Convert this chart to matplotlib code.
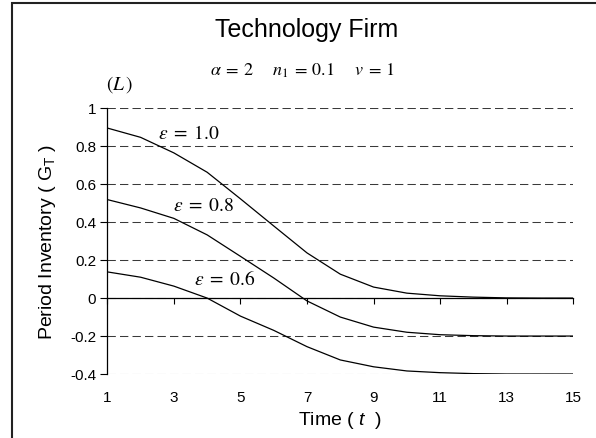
import matplotlib
matplotlib.use("Agg")
import matplotlib.pyplot as plt
from matplotlib.patches import Rectangle

plt.rcParams["font.family"] = ["Liberation Sans", "DejaVu Sans"]
plt.rcParams["mathtext.fontset"] = "custom"
plt.rcParams["mathtext.rm"] = "Liberation Sans"
plt.rcParams["mathtext.it"] = "Liberation Sans:italic"
plt.rcParams["lines.scale_dashes"] = False

# time periods and inventory paths
t = [1, 2, 3, 4, 5, 6, 7, 8, 9, 10, 11, 12, 13, 14, 15]
g_eps10 = [0.896, 0.847, 0.765, 0.663, 0.523, 0.38, 0.238, 0.126, 0.058,
           0.026, 0.012, 0.005, 0.001, 0.0, 0.0]
g_eps08 = [0.519, 0.475, 0.42, 0.333, 0.22, 0.106, -0.015, -0.1, -0.153,
           -0.18, -0.193, -0.198, -0.2, -0.2, -0.2]
g_eps06 = [0.138, 0.11, 0.063, 0.0, -0.095, -0.17, -0.256, -0.326, -0.362,
           -0.384, -0.393, -0.398, -0.4, -0.4, -0.4]

series = [
    (g_eps10, r"$\varepsilon\;=\;1.0$", (3.45, 0.865)),
    (g_eps08, r"$\varepsilon\;=\;0.8$", (3.88, 0.485)),
    (g_eps06, r"$\varepsilon\;=\;0.6$", (4.52, 0.098)),
]
xticks = [1, 3, 5, 7, 9, 11, 13, 15]
yticks = [-0.4, -0.2, 0, 0.2, 0.4, 0.6, 0.8, 1.0]
ytick_labels = ["-0.4", "-0.2", "0", "0.2", "0.4", "0.6", "0.8", "1"]

fig = plt.figure(figsize=(5.96, 4.38), dpi=100)
ax = fig.add_axes([107.3 / 596, 1 - 374 / 438, 466 / 596, 265.7 / 438])

for vals, lab, (lx, ly) in series:
    ax.plot(t, vals, color="black", lw=0.9, zorder=3)
    ax.text(lx, ly, lab, ha="center", va="center", fontsize=14,
            math_fontfamily="stix")

ax.set_xlim(1, 15)
ax.set_ylim(-0.4, 1.0)

# dashed horizontal grid
ax.set_yticks(yticks)
ax.set_yticklabels(ytick_labels)
ax.yaxis.grid(True, color="#3a3a3a", lw=0.75, dashes=(6, 3))
ax.set_axisbelow(True)

for s in ("top", "right"):
    ax.spines[s].set_visible(False)
ax.spines["left"].set_linewidth(0.9)
ax.spines["bottom"].set_position(("data", 0))
ax.spines["bottom"].set_linewidth(0.9)
ax.spines["bottom"].set_zorder(4)

ax.set_xticks(xticks)
ax.tick_params(axis="x", direction="out", length=4, width=0.8,
               labelbottom=False)
ax.tick_params(axis="y", direction="out", length=5, width=0.8, pad=3,
               labelsize=11)

# x tick labels sit at the bottom of the plot area (Excel "low" labels)
sec = ax.secondary_xaxis("bottom")
sec.set_xticks(xticks)
sec.tick_params(length=0, pad=12, labelsize=11)
sec.spines["bottom"].set_visible(False)

ax.text(0.5, -0.175, r"Time ( $\mathit{t}$  )", transform=ax.transAxes,
        ha="center", va="center", fontsize=14)
ax.text(-0.129, 0.497, r"Period Inventory ( $\mathrm{G_T}$ )",
        transform=ax.transAxes, ha="center", va="center", rotation=90,
        fontsize=14)

fig.text(0.514, 0.931, "Technology Firm", ha="center", va="center",
         fontsize=18)
fig.text(0.507, 0.838,
         r"$\alpha\:=\:2\quad\;\; n_1\:=\:0.1\quad\;\; v\:=\:1$",
         ha="center", va="center", fontsize=13, math_fontfamily="stix")
fig.text(0.2, 0.806, r"$(L\,)$", ha="center", va="center", fontsize=14,
         math_fontfamily="stix")

# chart-area border (only left and top edges fall inside the crop)
fig.add_artist(Rectangle((12 / 596, -0.5), 1.2, 1.5 - 2.5 / 438,
                         transform=fig.transFigure, fill=False,
                         edgecolor="#222222", lw=1.5))

fig.savefig("out.png", dpi=100)
